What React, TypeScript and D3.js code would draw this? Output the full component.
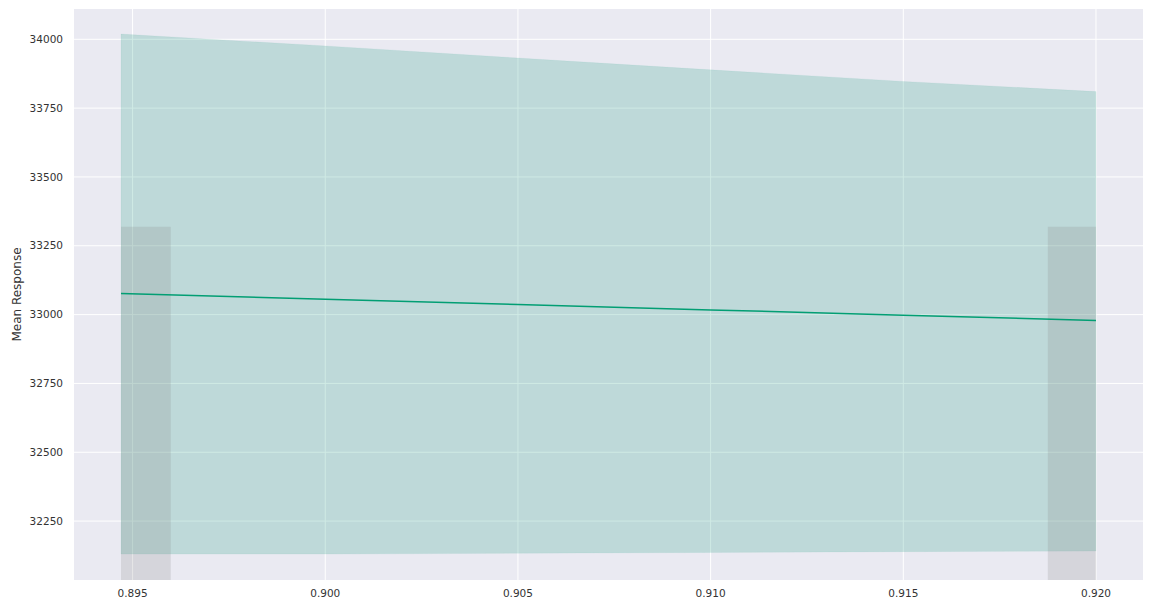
import { useEffect, useRef } from 'react';
import * as d3 from 'd3';

// sampled x positions of the fitted curve
const xValues = [0.8947, 0.9, 0.905, 0.91, 0.915, 0.92];
const meanValues = [33077, 33056, 33037, 33017, 32998, 32979];
const upperValues = [34019, 33976, 33932, 33889, 33847, 33810];
const lowerValues = [32130, 32130, 32133, 32136, 32139, 32141];

// gray marginal bars (x0, x1, top)
const barX0 = [0.8947, 0.91875];
const barX1 = [0.89599, 0.92];
const barTop = [33319, 33319];

const xTicks = [0.895, 0.9, 0.905, 0.91, 0.915, 0.92];
const yTicks = [32250, 32500, 32750, 33000, 33250, 33500, 33750, 34000];

const width = 1150;
const height = 606;
const margin = { top: 9, right: 7, bottom: 26, left: 74 };

const App = () => {
    const svgRef = useRef<SVGSVGElement>(null);

    useEffect(() => {
        if (!svgRef.current) return;
        d3.select(svgRef.current).selectAll('*').remove();

        const innerWidth = width - margin.left - margin.right;
        const innerHeight = height - margin.top - margin.bottom;

        const svg = d3.select(svgRef.current)
            .attr('width', width)
            .attr('height', height);

        const g = svg.append('g')
            .attr('transform', `translate(${margin.left},${margin.top})`);

        const xScale = d3.scaleLinear()
            .domain([0.89348, 0.92122])
            .range([0, innerWidth]);

        const yScale = d3.scaleLinear()
            .domain([32036, 34110])
            .range([innerHeight, 0]);

        g.append('defs').append('clipPath')
            .attr('id', 'plot-clip')
            .append('rect')
            .attr('width', innerWidth)
            .attr('height', innerHeight);

        // background
        g.append('rect')
            .attr('width', innerWidth)
            .attr('height', innerHeight)
            .attr('fill', '#eaeaf2');

        // grid
        g.selectAll('.vgrid')
            .data(xTicks)
            .enter()
            .append('line')
            .attr('x1', d => xScale(d))
            .attr('x2', d => xScale(d))
            .attr('y1', 0)
            .attr('y2', innerHeight)
            .attr('stroke', '#fff')
            .attr('stroke-width', 1);

        g.selectAll('.hgrid')
            .data(yTicks)
            .enter()
            .append('line')
            .attr('x1', 0)
            .attr('x2', innerWidth)
            .attr('y1', d => yScale(d))
            .attr('y2', d => yScale(d))
            .attr('stroke', '#fff')
            .attr('stroke-width', 1);

        const plot = g.append('g').attr('clip-path', 'url(#plot-clip)');

        // confidence band
        const band = d3.area<number>()
            .x((_, i) => xScale(xValues[i]))
            .y0((_, i) => yScale(lowerValues[i]))
            .y1(d => yScale(d));

        plot.append('path')
            .datum(upperValues)
            .attr('fill', '#10967a')
            .attr('fill-opacity', 0.2)
            .attr('stroke', '#029e73')
            .attr('stroke-opacity', 0.05)
            .attr('d', band);

        // gray bars
        plot.selectAll('.bar')
            .data(barTop)
            .enter()
            .append('rect')
            .attr('x', (_, i) => xScale(barX0[i]))
            .attr('width', (_, i) => xScale(barX1[i]) - xScale(barX0[i]))
            .attr('y', d => yScale(d))
            .attr('height', d => innerHeight - yScale(d) + 2)
            .attr('fill', '#808080')
            .attr('fill-opacity', 0.2);

        // mean line
        const line = d3.line<number>()
            .x((_, i) => xScale(xValues[i]))
            .y(d => yScale(d));

        plot.append('path')
            .datum(meanValues)
            .attr('fill', 'none')
            .attr('stroke', '#029e73')
            .attr('stroke-width', 1.5)
            .attr('d', line);

        // tick labels
        g.selectAll('.xlabel')
            .data(xTicks)
            .enter()
            .append('text')
            .attr('x', d => xScale(d))
            .attr('y', innerHeight + 17)
            .attr('text-anchor', 'middle')
            .attr('fill', '#333')
            .style('font-family', 'DejaVu Sans, sans-serif')
            .style('font-size', '10.5px')
            .text(d => d3.format('.3f')(d));

        g.selectAll('.ylabel')
            .data(yTicks)
            .enter()
            .append('text')
            .attr('x', -11)
            .attr('y', d => yScale(d))
            .attr('dy', '0.35em')
            .attr('text-anchor', 'end')
            .attr('fill', '#333')
            .style('font-family', 'DejaVu Sans, sans-serif')
            .style('font-size', '10.5px')
            .text(d => d);

        // axis title
        svg.append('text')
            .attr('transform', `translate(21,${margin.top + innerHeight / 2}) rotate(-90)`)
            .attr('text-anchor', 'middle')
            .attr('fill', '#333')
            .style('font-family', 'DejaVu Sans, sans-serif')
            .style('font-size', '12px')
            .text('Mean Response');
    }, []);

    return (
        <svg ref={svgRef} style={{ position: 'absolute', left: 0, top: 0, background: '#fff' }}
            role="img" aria-label="Mean response line with confidence band"></svg>
    );
};

export default App;
